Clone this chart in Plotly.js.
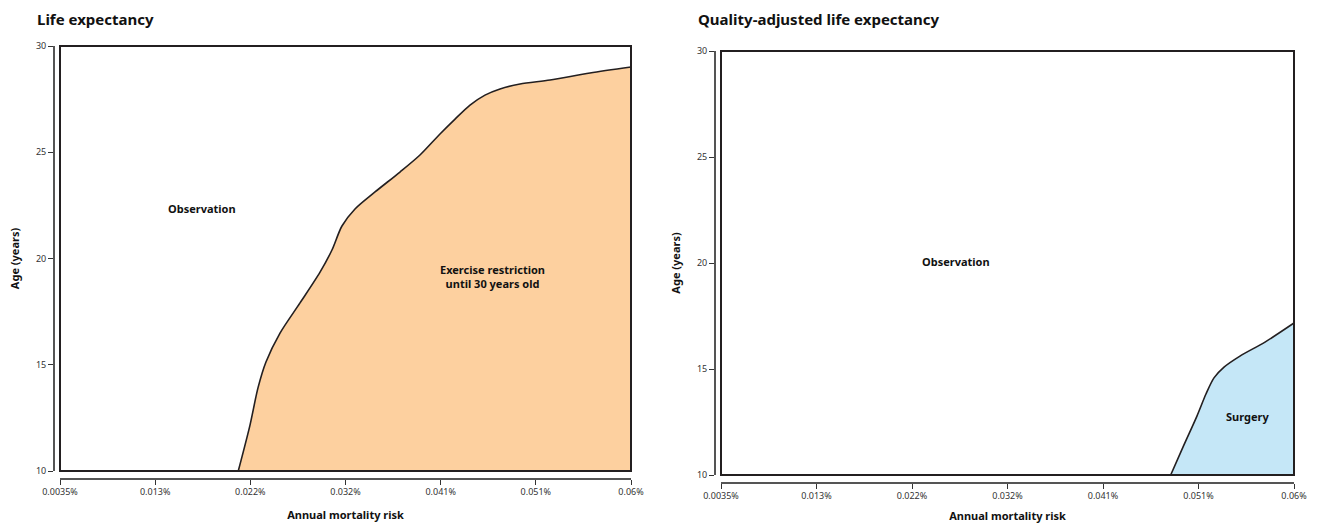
<!DOCTYPE html>
<html>
<head>
<meta charset="utf-8">
<script src="https://cdn.plot.ly/plotly-3.0.1.min.js"></script>
<style>html,body{margin:0;padding:0;background:#fff;}#chart{width:1318px;height:523px;}</style>
</head>
<body>
<div id="chart"></div>
<script>
// Tick labels (annual mortality risk) and their positions on the axis
const tickLabels = ["0.0035%", "0.013%", "0.022%", "0.032%", "0.041%", "0.051%", "0.06%"];
const tickVals = [0.0035, 0.012917, 0.022333, 0.03175, 0.041167, 0.050583, 0.06];
const yTickVals = [10, 15, 20, 25, 30];

// Life expectancy: boundary between Observation and Exercise restriction
const leRisk = [0.02114, 0.0223, 0.02309, 0.02388, 0.02527, 0.02725, 0.02923, 0.03041, 0.0314, 0.03269, 0.03467, 0.03714, 0.03912, 0.0411, 0.04259, 0.04407, 0.04555, 0.04704, 0.04902, 0.05199, 0.05594, 0.06];
const leAge  = [10, 12.16, 13.91, 15.13, 16.49, 17.91, 19.36, 20.40, 21.53, 22.33, 23.13, 24.07, 24.87, 25.86, 26.56, 27.22, 27.69, 27.98, 28.21, 28.40, 28.73, 29.01];

// Quality-adjusted life expectancy: boundary between Observation and Surgery
const qaRisk = [0.04784, 0.04915, 0.05043, 0.05132, 0.05211, 0.0531, 0.05467, 0.05714, 0.06];
const qaAge  = [10, 11.42, 12.78, 13.82, 14.58, 15.09, 15.61, 16.27, 17.17];

const FONT = "Noto Sans, Open Sans, sans-serif";
const lineCol = "#231f20";

function region(xs, ys, color, xa, ya) {
  return {
    x: xs, y: ys, xaxis: xa, yaxis: ya,
    type: "scatter", mode: "lines",
    fill: "tozeroy", fillcolor: color,
    line: {color: lineCol, width: 1.6, shape: "spline", smoothing: 0.8},
    hoverinfo: "skip", showlegend: false
  };
}

const data = [
  region(leRisk, leAge, "#fdd09f", "x", "y"),
  region(qaRisk, qaAge, "#c5e7f7", "x2", "y2")
];

function xAxis(domain, pos) {
  return {
    domain: domain, anchor: "free", position: pos,
    range: [0.0035, 0.06], tickmode: "array", tickvals: tickVals, ticktext: tickLabels,
    showgrid: false, zeroline: false, showline: true, linecolor: "#555", linewidth: 1.5,
    ticks: "outside", ticklen: 5, tickwidth: 1, tickcolor: "#333",
    tickfont: {family: FONT, size: 9, color: "#333"},
    title: {text: "<b>Annual mortality risk</b>", font: {family: FONT, size: 11, color: "#111"}, standoff: 14}
  };
}
function yAxis(domain, pos) {
  return {
    domain: domain, anchor: "free", position: pos,
    range: [10, 30], tickmode: "array", tickvals: yTickVals,
    showgrid: false, zeroline: false, showline: true, linecolor: "#555", linewidth: 1.5,
    ticks: "outside", ticklen: 5, tickwidth: 1, tickcolor: "#333",
    tickfont: {family: FONT, size: 9, color: "#333"},
    title: {text: "<b>Age (years)</b>", font: {family: FONT, size: 11, color: "#111"}, standoff: 12}
  };
}

const layout = {
  width: 1318, height: 523,
  margin: {l: 0, r: 0, t: 0, b: 0},
  paper_bgcolor: "#fff", plot_bgcolor: "#fff",
  showlegend: false,
  xaxis: xAxis([60/1318, 631/1318], 45/523),
  yaxis: yAxis([52/523, 477/523], 53/1318),
  xaxis2: xAxis([721/1318, 1294/1318], 41/523),
  yaxis2: yAxis([48/523, 472/523], 714/1318),
  shapes: [
    {type: "rect", xref: "x domain", yref: "y domain", x0: 0, x1: 1, y0: 0, y1: 1, line: {color: lineCol, width: 2}},
    {type: "rect", xref: "x2 domain", yref: "y2 domain", x0: 0, x1: 1, y0: 0, y1: 1, line: {color: lineCol, width: 2}}
  ],
  annotations: [
    {text: "<b>Life expectancy</b>", xref: "paper", yref: "paper", x: 35/1318, y: 1 - 19/523, xanchor: "left", yanchor: "middle", showarrow: false, font: {family: FONT, size: 15, color: "#111"}},
    {text: "<b>Quality-adjusted life expectancy</b>", xref: "paper", yref: "paper", x: 696/1318, y: 1 - 19/523, xanchor: "left", yanchor: "middle", showarrow: false, font: {family: FONT, size: 15, color: "#111"}},
    {text: "<b>Observation</b>", xref: "x", yref: "y", x: 0.01755, y: 22.33, showarrow: false, font: {family: FONT, size: 11, color: "#111"}},
    {text: "<b>Exercise restriction<br>until 30 years old</b>", xref: "x", yref: "y", x: 0.04625, y: 19.13, showarrow: false, font: {family: FONT, size: 11, color: "#111"}},
    {text: "<b>Observation</b>", xref: "x2", yref: "y2", x: 0.02667, y: 20.05, showarrow: false, font: {family: FONT, size: 11, color: "#111"}},
    {text: "<b>Surgery</b>", xref: "x2", yref: "y2", x: 0.05546, y: 12.78, showarrow: false, font: {family: FONT, size: 11, color: "#111"}}
  ]
};

Plotly.newPlot("chart", data, layout, {displayModeBar: false, staticPlot: true});
</script>
</body>
</html>
